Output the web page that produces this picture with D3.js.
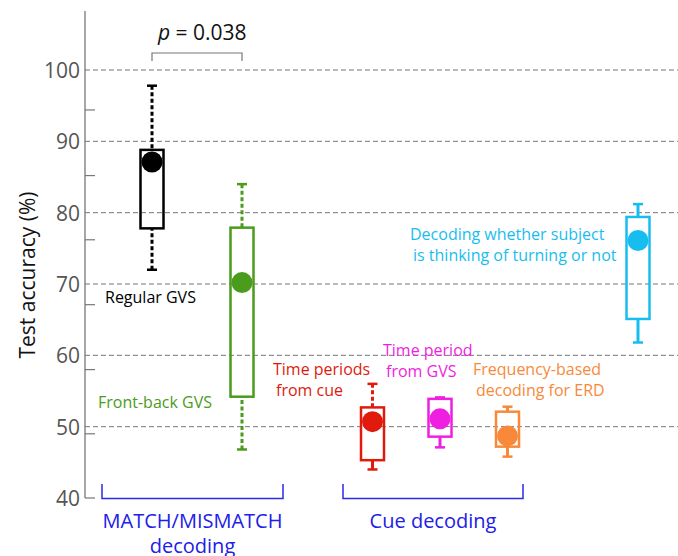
<!DOCTYPE html>
<html>
<head>
<meta charset="utf-8">
<script src="https://cdn.jsdelivr.net/npm/d3@7"></script>
<style>
  body { margin: 0; background: #fff; }
  svg text { font-family: "Open Sans", "Noto Sans", sans-serif; }
</style>
</head>
<body>
<div id="chart"></div>
<script>
// data
var names = ['Regular GVS', 'Front-back GVS', 'Time periods from cue', 'Time period from GVS', 'Frequency-based decoding for ERD', 'Turning or not']
var colors = ['#000000', '#4b9b1c', '#e01b0e', '#f01ee0', '#f8893a', '#18bdf0']
var xPos = [1, 2, 3.45, 4.2, 4.95, 6.4]
var whiskLow = [72.0, 46.8, 44.0, 47.1, 45.8, 61.8]
var boxLow = [77.8, 54.2, 45.3, 48.6, 47.2, 65.1]
var boxHigh = [88.8, 77.9, 52.7, 53.9, 52.1, 79.4]
var whiskHigh = [97.8, 84.0, 56.0, 54.1, 52.8, 81.2]
var medians = [87.1, 70.2, 50.7, 51.1, 48.7, 76.1]
var dashedWhisk = [[true, true], [true, true], [false, true], [false, false], [false, false], [false, false]] // [low, high]
var majorTicks = [40, 50, 60, 70, 80, 90, 100]
var minorTicks = [49.0, 58.0, 67.1, 76.2, 85.2, 94.4]

var width = 678, height = 556
var margin = { top: 11, left: 85 }

var y = d3.scaleLinear().domain([40, 100]).range([498, 70])
var x = d3.scaleLinear().domain([1, 2]).range([152, 242])

var svg = d3.select('#chart').append('svg')
    .attr('width', width)
    .attr('height', height)

// gridlines
svg.append('g').selectAll('line')
    .data(majorTicks.filter(d => d > 40))
    .enter().append('line')
    .attr('x1', margin.left).attr('x2', width)
    .attr('y1', d => y(d)).attr('y2', d => y(d))
    .attr('stroke', '#777')
    .attr('stroke-width', 1)
    .attr('stroke-dasharray', '5,3')

// y axis
var yAxis = d3.axisLeft(y).tickValues(majorTicks).tickSize(0).tickPadding(5)
var ax = svg.append('g')
    .attr('transform', 'translate(' + margin.left + ',0)')
    .call(yAxis)
ax.select('.domain').remove()
ax.selectAll('text')
    .attr('fill', '#555')
    .style('font-size', '21px')
    .attr('dy', '0.35em')
ax.append('line')
    .attr('x1', 0).attr('x2', 0)
    .attr('y1', margin.top).attr('y2', y(40))
    .attr('stroke', '#777').attr('stroke-width', 1.3)
ax.selectAll('.minor')
    .data(minorTicks.concat([40]))
    .enter().append('line')
    .attr('class', 'minor')
    .attr('x1', 0).attr('x2', 10)
    .attr('y1', d => y(d)).attr('y2', d => y(d))
    .attr('stroke', '#777').attr('stroke-width', 1.2)

svg.append('text')
    .attr('transform', 'translate(35,275) rotate(-90)')
    .attr('text-anchor', 'middle')
    .style('font-size', '21px')
    .attr('fill', '#111')
    .text('Test accuracy (%)')

// boxes
var boxW = 23, capW = 10
var boxes = svg.selectAll('.box')
    .data(names)
    .enter().append('g')
    .attr('class', 'box')

boxes.each(function (d, i) {
    var g = d3.select(this)
    var cx = x(xPos[i])
    var c = colors[i]
    // whiskers
    ;[[whiskLow[i], boxLow[i], dashedWhisk[i][0]], [whiskHigh[i], boxHigh[i], dashedWhisk[i][1]]].forEach(function (w) {
        g.append('line')
            .attr('x1', cx).attr('x2', cx)
            .attr('y1', y(w[0])).attr('y2', y(w[1]))
            .attr('stroke', c).attr('stroke-width', 3)
            .attr('stroke-dasharray', w[2] ? '4,2.5' : null)
        g.append('line')
            .attr('x1', cx - capW / 2).attr('x2', cx + capW / 2)
            .attr('y1', y(w[0])).attr('y2', y(w[0]))
            .attr('stroke', c).attr('stroke-width', 2.5)
    })
    g.append('rect')
        .attr('x', cx - boxW / 2)
        .attr('y', y(boxHigh[i]))
        .attr('width', boxW)
        .attr('height', y(boxLow[i]) - y(boxHigh[i]))
        .attr('fill', 'none')
        .attr('stroke', c).attr('stroke-width', 2.5)
    g.append('circle')
        .attr('cx', cx).attr('cy', y(medians[i]))
        .attr('r', 10.5)
        .attr('fill', c)
})

// significance bracket
var bk = svg.append('g')
bk.append('path')
    .attr('d', 'M' + x(1) + ',' + 61 + 'V53H' + x(2) + 'V61')
    .attr('fill', 'none').attr('stroke', '#777').attr('stroke-width', 1.2)
var pt = bk.append('text')
    .attr('x', 158).attr('y', 40)
    .style('font-size', '21px')
    .attr('fill', '#111')
pt.append('tspan').style('font-style', 'italic').text('p')
pt.append('tspan').text(' = 0.038')

// labels (left aligned, second line nudged right)
var labels = [
    { lines: ['Regular GVS'], x: 105, y: 303, c: 0 },
    { lines: ['Front-back GVS'], x: 98, y: 408, c: 1 },
    { lines: ['Time periods', 'from cue'], x: 273, y: 375, c: 2 },
    { lines: ['Time period', 'from GVS'], x: 383, y: 356, c: 3 },
    { lines: ['Frequency-based', 'decoding for ERD'], x: 473, y: 375, c: 4 },
    { lines: ['Decoding whether subject', 'is thinking of turning or not'], x: 410, y: 240, c: 5 }
]
labels.forEach(function (l) {
    var t = svg.append('text')
        .attr('fill', colors[l.c])
        .style('font-size', '16px')
    l.lines.forEach(function (s, j) {
        t.append('tspan').attr('x', l.x + j * 3).attr('y', l.y + j * 20.5).text(s)
    })
})

// group brackets
var groups = [
    { from: 102, to: 283, lines: ['MATCH/MISMATCH', 'decoding'] },
    { from: 343, to: 523, lines: ['Cue decoding'] }
]
groups.forEach(function (g) {
    svg.append('path')
        .attr('d', 'M' + g.from + ',484V498.5H' + g.to + 'V484')
        .attr('fill', 'none').attr('stroke', '#2b2be6').attr('stroke-width', 1.5)
    var t = svg.append('text')
        .attr('text-anchor', 'middle')
        .attr('fill', '#2020e8')
        .style('font-size', '20px')
    g.lines.forEach(function (s, j) {
        t.append('tspan').attr('x', (g.from + g.to) / 2).attr('y', 528 + j * 25).text(s)
    })
})
</script>
</body>
</html>
